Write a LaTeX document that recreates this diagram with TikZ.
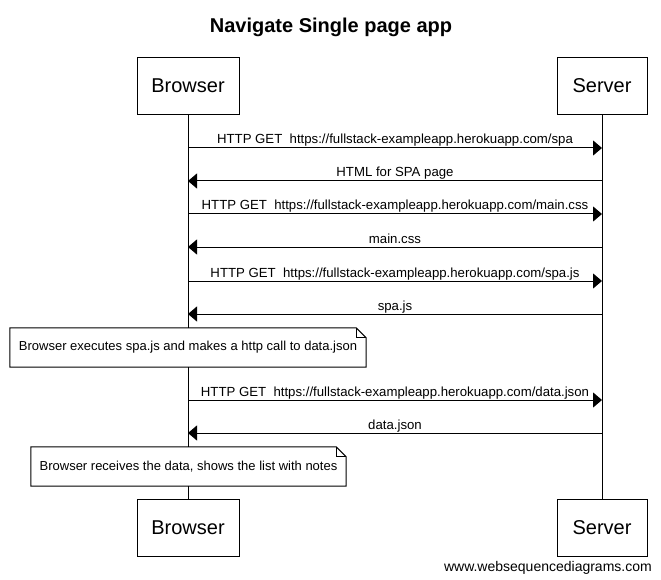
\documentclass[tikz,border=0pt]{standalone}
\usepackage{fontspec}
\setmainfont{Liberation Sans}
\usetikzlibrary{arrows.meta}

\begin{document}
\begin{tikzpicture}
	[x=1pt, y=-1pt,
	 actor/.style={draw, line width=1pt, minimum width=#1, minimum height=57pt, inner sep=0pt, font=\fontsize{20}{24}\selectfont},
	 msg/.style={line width=1pt, -{Triangle[length=9pt,width=15pt]}},
	 lbl/.style={midway, anchor=base, yshift=4pt, inner sep=0pt, font=\fontsize{13.2}{15}\selectfont},
	 note/.style={fill=white, minimum height=39pt, inner sep=0pt, font=\fontsize{13}{15}\selectfont},
	 notebox/.style={line width=1pt}]

	\useasboundingbox[fill=white] (0,0) rectangle (661,580);

	%Title
	\node[anchor=base] (title) at (331,33) {\fontsize{20}{24}\selectfont\bfseries Navigate Single page app};

	%Actors
	\node[actor=102pt] (browserTop) at (188,86) {Browser};
	\node[actor=90pt] (serverTop) at (602,86) {Server};
	\node[actor=102pt] (browserBot) at (188,528) {Browser};
	\node[actor=90pt] (serverBot) at (602,528) {Server};

	%Lifelines
	\draw[line width=1pt] (browserTop) -- (browserBot);
	\draw[line width=1pt] (serverTop) -- (serverBot);

	%Messages
	\coordinate (b1) at (188,148); \coordinate (s1) at (602,148);
	\coordinate (b2) at (188,181); \coordinate (s2) at (602,181);
	\coordinate (b3) at (188,214); \coordinate (s3) at (602,214);
	\coordinate (b4) at (188,247); \coordinate (s4) at (602,247);
	\coordinate (b5) at (188,281); \coordinate (s5) at (602,281);
	\coordinate (b6) at (188,314); \coordinate (s6) at (602,314);
	\coordinate (b7) at (188,400); \coordinate (s7) at (602,400);
	\coordinate (b8) at (188,433); \coordinate (s8) at (602,433);

	\draw[msg] (b1) -- (s1) node[lbl] (m1) {HTTP GET\ \ https://fullstack-exampleapp.herokuapp.com/spa};
	\draw[msg] (s2) -- (b2) node[lbl] (m2) {HTML for SPA page};
	\draw[msg] (b3) -- (s3) node[lbl] (m3) {HTTP GET\ \ https://fullstack-exampleapp.herokuapp.com/main.css};
	\draw[msg] (s4) -- (b4) node[lbl] (m4) {main.css};
	\draw[msg] (b5) -- (s5) node[lbl] (m5) {HTTP GET\ \ https://fullstack-exampleapp.herokuapp.com/spa.js};
	\draw[msg] (s6) -- (b6) node[lbl] (m6) {spa.js};
	\draw[msg] (b7) -- (s7) node[lbl] (m7) {HTTP GET\ \ https://fullstack-exampleapp.herokuapp.com/data.json};
	\draw[msg] (s8) -- (b8) node[lbl] (m8) {data.json};

	%Notes
	\node[note, minimum width=356pt] (note1) at (188,347.5) {Browser executes spa.js and makes a http call to data.json};
	\draw[notebox] (note1.north west) -- ([xshift=-10pt]note1.north east) -- ([yshift=-10pt]note1.north east) -- (note1.south east) -- (note1.south west) -- cycle;
	\draw[notebox] ([xshift=-10pt]note1.north east) -- ++(0,10) -- ([yshift=-10pt]note1.north east);

	\node[note, minimum width=315pt] (note2) at (188.5,466.5) {Browser receives the data, shows the list with notes};
	\draw[notebox] (note2.north west) -- ([xshift=-10pt]note2.north east) -- ([yshift=-10pt]note2.north east) -- (note2.south east) -- (note2.south west) -- cycle;
	\draw[notebox] ([xshift=-10pt]note2.north east) -- ++(0,10) -- ([yshift=-10pt]note2.north east);

	%Footer
	\node[anchor=base east, inner sep=0pt, font=\fontsize{14}{16}\selectfont] (footer) at (652,571) {www.websequencediagrams.com};
\end{tikzpicture}
\end{document}
